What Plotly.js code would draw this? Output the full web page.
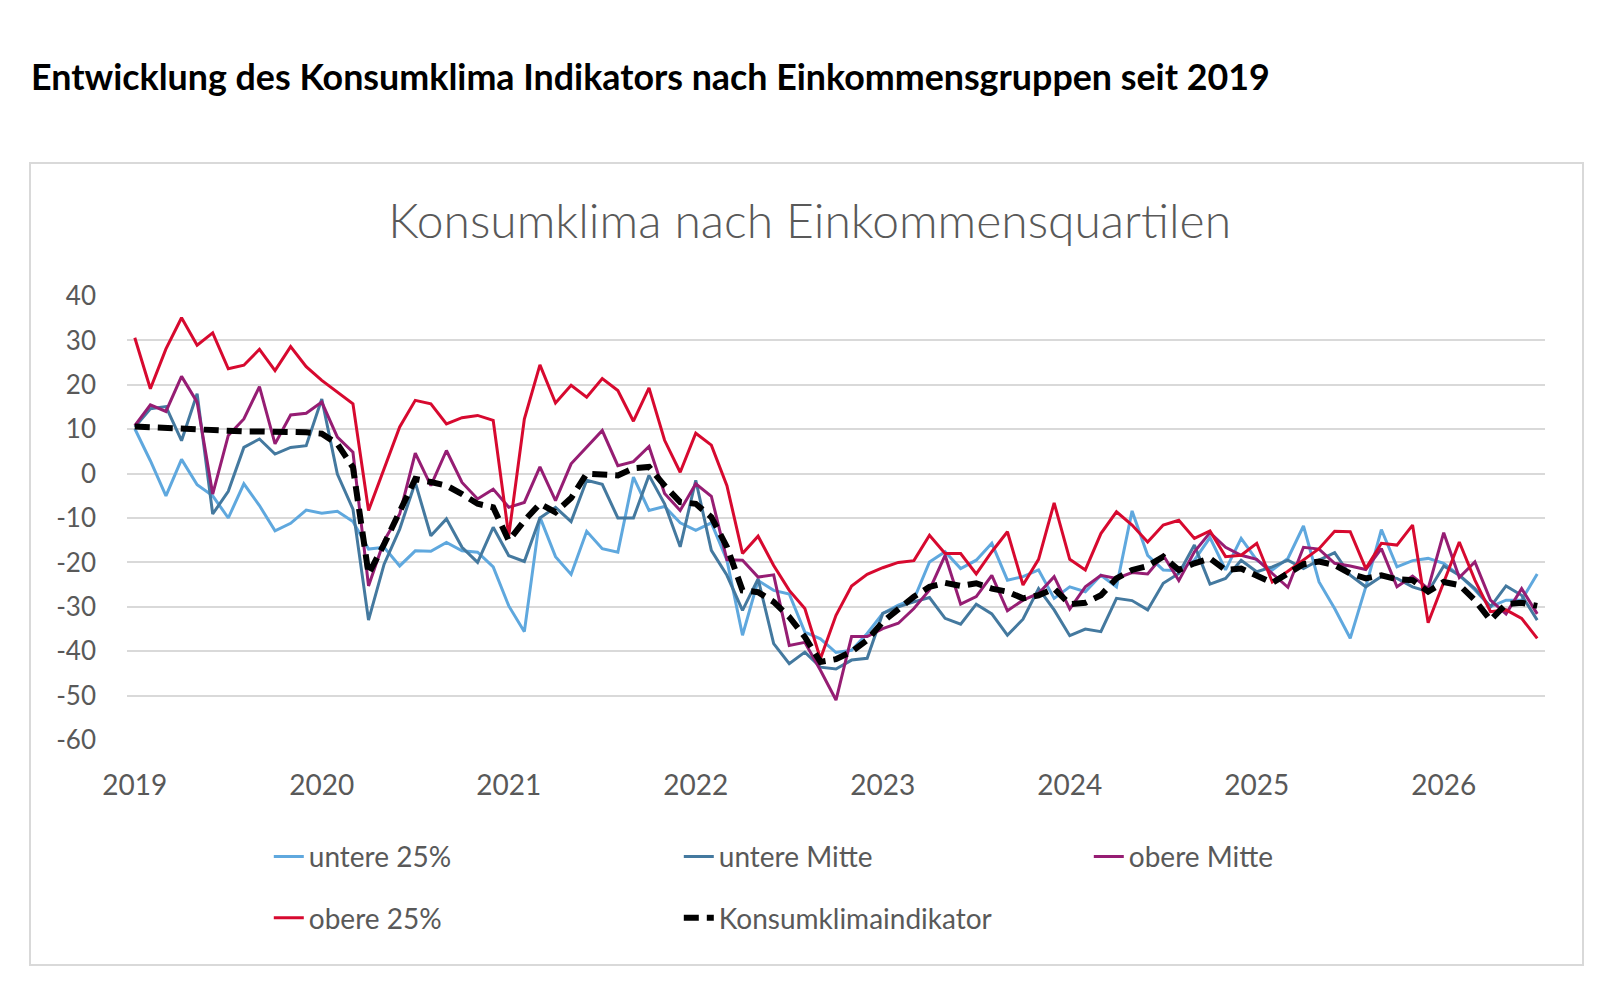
<!DOCTYPE html>
<html>
<head>
<meta charset="utf-8">
<script src="https://cdn.plot.ly/plotly-3.0.1.min.js"></script>
<style>
  body { margin: 0; background: #fff; }
  #heading {
    position: absolute; left: 31px; top: 56px;
    font-family: Lato, "Open Sans", sans-serif; font-weight: 700;
    font-size: 35.8px; line-height: 42px; color: #000;
  }
  #frame {
    position: absolute; left: 29px; top: 162px;
    width: 1551px; height: 800px;
    border: 2px solid #d9d9d9;
  }
</style>
</head>
<body>
<div id="heading">Entwicklung des Konsumklima Indikators nach Einkommensgruppen seit 2019</div>
<div id="frame"><div id="chart" style="width:1551px;height:800px;"></div></div>
<script>
// monthly values, Jan 2019 - Jul 2026
var years = ['2019', '2020', '2021', '2022', '2023', '2024', '2025', '2026'];
var yTicks = [40, 30, 20, 10, 0, -10, -20, -30, -40, -50, -60];

var untere25 = [10.1, 2.9, -5, 3.2, -2.5, -5, -10, -2.3, -7.2, -12.9, -11.2, -8.2,
  -8.9, -8.5, -10.8, -17, -16.6, -20.8, -17.4, -17.5, -15.5, -17.4, -17.7, -21,
  -29.8, -35.6, -9.8, -18.7, -22.7, -13, -16.9, -17.7, -0.8, -8.3, -7.4, -11.1,
  -12.8, -11.1, -19.5, -36.4, -24.1, -26.3, -27.1, -35.7, -37.2, -40.3, -39.8, -36,
  -31.5, -29.6, -28.3, -19.9, -17.6, -21.4, -19.5, -15.7, -24, -23.2, -21.7, -28.1,
  -25.5, -26.6, -22.9, -25.5, -8.4, -18.4, -21.7, -21.9, -19.5, -14.4, -21.7, -14.6,
  -19.5, -21.7, -19.1, -11.8, -24.4, -30.4, -37.1, -25.5, -12.6, -21, -19.6, -19.1,
  -20.2, -22.9, -26.2, -30, -28.5, -28.5, -22.6];

var untereMitte = [10.5, 14.6, 15.1, 7.4, 18, -9.1, -4, 5.9, 7.8, 4.4, 5.9, 6.3,
  16.8, -0.1, -8, -33, -20.4, -12.5, -2, -14, -10.2, -16.6, -20, -12.1,
  -18.5, -19.8, -10, -7.6, -10.8, -1.5, -2.4, -10, -10, -0.4, -6.8, -16.5,
  -1.5, -17.3, -22.9, -30.8, -23.7, -38.3, -42.8, -40.2, -43.6, -44, -42, -41.6,
  -31.5, -30, -28.9, -27.9, -32.6, -33.9, -29.4, -31.6, -36.4, -32.8, -25.9, -30.7,
  -36.5, -35, -35.6, -28.1, -28.6, -30.7, -24.7, -22.5, -16.1, -24.9, -23.6, -19.5,
  -22.1, -21, -19.5, -21.4, -19.5, -17.8, -22.9, -25.5, -23.2, -23.6, -25.5, -26.6,
  -20.8, -22.9, -25.9, -30, -25.3, -27.4, -33];

var obereMitte = [10.8, 15.5, 14, 21.9, 16.1, -4.6, 8.6, 12.3, 19.6, 6.7, 13.2, 13.6,
  16.1, 8.2, 4.8, -25.3, -15.1, -9.1, 4.6, -2.7, 5.2, -2, -5.7, -3.5,
  -7.6, -6.5, 1.5, -6.1, 2.2, 6, 9.7, 1.8, 2.7, 6.1, -4.5, -8.3,
  -2.3, -5.1, -19.4, -19.5, -23.3, -22.8, -38.7, -38, -44.3, -51, -36.7, -36.7,
  -34.9, -33.7, -30.4, -26.2, -18.4, -29.4, -27.7, -22.9, -30.9, -28.5, -27, -23.2,
  -30.5, -25.5, -22.9, -23.6, -22.3, -22.6, -18.4, -24.1, -17.6, -13.3, -16.6, -18.4,
  -19.3, -22.5, -25.6, -16.6, -17, -20.2, -20.8, -21.6, -16.9, -25.5, -23.1, -25.9,
  -13.3, -23.4, -19.9, -28.5, -31.6, -25.9, -31.6];

var obere25 = [30.6, 19.1, 28.1, 35.1, 28.9, 31.7, 23.6, 24.4, 28, 23.2, 28.6, 24.1,
  21, 18.3, 15.7, -8.3, 1.1, 10.5, 16.5, 15.7, 11.2, 12.6, 13.1, 12,
  -14, 12.3, 24.5, 15.9, 19.9, 17.2, 21.4, 18.7, 11.8, 19.3, 7.5, 0.3,
  9.1, 6.4, -2.7, -18, -14.1, -20.7, -26.3, -30.4, -41.7, -31.9, -25.3, -22.7,
  -21.2, -20, -19.6, -13.9, -18, -18, -22.6, -17.6, -13.1, -25.1, -19.3, -6.6,
  -19.3, -21.7, -13.5, -8.6, -11.6, -15.4, -11.6, -10.5, -14.6, -12.9, -18.7, -18.4,
  -15.7, -24.4, -22, -19.5, -16.9, -13, -13.1, -21.4, -15.7, -16.1, -11.6, -33.6,
  -24.7, -15.4, -24, -31.1, -30.7, -32.6, -37.1];

var konsumklima = [10.6, 10.4, 10.2, 10, 9.8, 9.7, 9.6, 9.5, 9.5, 9.5, 9.4, 9.3,
  9, 6.7, 1.4, -22.6, -15.9, -8.3, -1.2, -1.9, -2.7, -4.6, -6.8, -7.6,
  -15.1, -10.6, -6.8, -8.7, -5.5, 0, -0.2, -0.4, 1.2, 1.5, -2.7, -6.4,
  -6.8, -9.8, -16.5, -26.3, -26.7, -28.9, -32.3, -36.8, -42.4, -41.8, -40.1, -37.5,
  -33.4, -30.6, -27.7, -25.5, -24.6, -25.3, -24.7, -25.9, -26.6, -28.1, -27.4, -25.9,
  -29.4, -29.1, -27.4, -23.6, -21.7, -20.8, -18.7, -21.7, -20.2, -19.1, -21.7, -21.4,
  -22.9, -24.6, -22.5, -20.4, -19.8, -20.6, -22.5, -23.6, -22.9, -23.8, -24, -26.6,
  -24.4, -25.1, -28.5, -33, -29.4, -29.1, -29.8];

var months = untere25.map(function(v, i) { return i; });
var yearTicks = years.map(function(y, k) { return k * 12; });

var greyText = '#595959';

function lineTrace(name, values, color, legend) {
  return {
    name: name,
    x: months,
    y: values,
    type: 'scatter',
    mode: 'lines',
    line: { color: color, width: 3 },
    legend: legend,
  };
}

var traces = [
  lineTrace('untere 25%', untere25, '#5fa8de', 'legend'),
  lineTrace('untere Mitte', untereMitte, '#44799f', 'legend'),
  lineTrace('obere Mitte', obereMitte, '#961d73', 'legend'),
  lineTrace('obere 25%', obere25, '#d7092f', 'legend2'),
  {
    name: 'Konsumklimaindikator',
    x: months,
    y: konsumklima,
    type: 'scatter',
    mode: 'lines',
    line: { color: '#000000', width: 6, dash: '15px,8px' },
    legend: 'legend2',
  },
];

var legendStyle = {
  orientation: 'h',
  xanchor: 'left',
  yanchor: 'middle',
  entrywidth: 365,
  entrywidthmode: 'pixels',
  font: { family: 'Lato, sans-serif', size: 28, color: greyText },
  bgcolor: 'rgba(0,0,0,0)',
};

var layout = {
  width: 1551,
  height: 800,
  paper_bgcolor: '#ffffff',
  plot_bgcolor: '#ffffff',
  margin: { l: 96, r: 37, t: 132, b: 224 },
  showlegend: true,
  title: {
    text: 'Konsumklima nach Einkommensquartilen',
    xref: 'container',
    yref: 'container',
    x: 0.502,
    y: 0.928,
    xanchor: 'center',
    yanchor: 'middle',
    font: { family: 'Lato, sans-serif', size: 48, weight: 300, color: greyText },
  },
  xaxis: {
    range: [-0.5, 90.5],
    tickvals: yearTicks,
    ticktext: years,
    showgrid: false,
    zeroline: false,
    showline: false,
    ticks: '',
    ticklabelstandoff: 26,
    tickfont: { family: 'Lato, sans-serif', size: 28, color: greyText },
  },
  yaxis: {
    range: [-60, 40],
    tickvals: yTicks,
    ticktext: yTicks.map(String),
    showgrid: true,
    gridcolor: '#d9d9d9',
    gridwidth: 2,
    zeroline: false,
    showline: false,
    ticks: '',
    ticklabelstandoff: 30,
    tickfont: { family: 'Lato, sans-serif', size: 26, color: greyText },
  },
  legend: Object.assign({ x: 0.1, y: -0.263 }, legendStyle),
  legend2: Object.assign({ x: 0.1, y: -0.401 }, legendStyle),
};

Plotly.newPlot('chart', traces, layout, { displayModeBar: false, staticPlot: true });
</script>
</body>
</html>
